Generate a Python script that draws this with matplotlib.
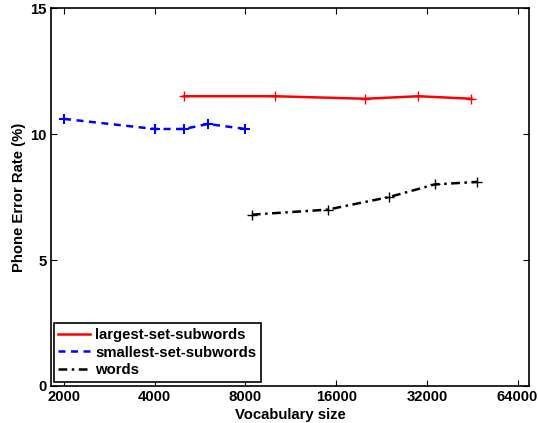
import matplotlib
matplotlib.use("Agg")
import matplotlib.pyplot as plt
from matplotlib.lines import Line2D

# --------------------------------------------------
# DATA
# --------------------------------------------------
largest_x = [5000, 10000, 20000, 30000, 45000]
largest_y = [11.5, 11.5, 11.4, 11.5, 11.4]

smallest_x = [2000, 4000, 5000, 6000, 8000]
smallest_y = [10.6, 10.2, 10.2, 10.4, 10.2]

words_x = [8400, 15000, 24000, 34000, 47000]
words_y = [6.8, 7.0, 7.5, 8.0, 8.1]

x_ticks = [2000, 4000, 8000, 16000, 32000, 64000]
y_ticks = [0, 5, 10, 15]

FS = 10.7
plt.rcParams["font.family"] = ["Liberation Sans", "DejaVu Sans"]
plt.rcParams["font.weight"] = "bold"
plt.rcParams["font.size"] = FS

fig = plt.figure(figsize=(5.38, 4.23), dpi=100)
ax = fig.add_axes([0.0942, 0.0875, 0.8896, 0.8935])

dashed = (0, (2.8, 2.2))
dashdot = (0, (3.5, 1.8, 1, 1.8))

ax.plot(largest_x, largest_y, color="red", linestyle="-", linewidth=1.8,
        marker="+", markersize=7, markeredgewidth=1)
ax.plot(smallest_x, smallest_y, color="blue", linestyle=dashed, linewidth=1.8,
        marker="+", markersize=7, markeredgewidth=1.5)
ax.plot(words_x, words_y, color="black", linestyle=dashdot, linewidth=1.8,
        marker="+", markersize=7, markeredgewidth=1)

ax.set_xscale("log", base=2)
ax.set_xlim(1805, 70000)
ax.set_ylim(0, 15)
ax.set_xticks(x_ticks)
ax.set_xticklabels([str(t) for t in x_ticks])
ax.minorticks_off()
ax.set_yticks(y_ticks)
ax.tick_params(direction="in", top=True, right=True, length=4, width=0.8,
               labelsize=FS, pad=3)
for lbl in ax.get_xticklabels() + ax.get_yticklabels():
    lbl.set_fontweight("bold")
for s in ax.spines.values():
    s.set_linewidth(1.2)

ax.set_xlabel("Vocabulary size", fontweight="bold", fontsize=FS, labelpad=3)
ax.set_ylabel("Phone Error Rate (%)", fontweight="bold", fontsize=FS, labelpad=3)

handles = [
    Line2D([], [], color="red", linestyle="-", linewidth=1.8),
    Line2D([], [], color="blue", linestyle=dashed, linewidth=1.8),
    Line2D([], [], color="black", linestyle=dashdot, linewidth=1.8),
]
leg = ax.legend(handles, ["largest-set-subwords", "smallest-set-subwords", "words"],
                loc="lower left", bbox_to_anchor=(0.007, 0.011), borderaxespad=0,
                fancybox=False, edgecolor="black", framealpha=1, handlelength=2.15,
                handletextpad=0.34, borderpad=0.3, labelspacing=0.25,
                prop={"weight": "bold", "size": FS})
leg.get_frame().set_linewidth(1.2)

fig.savefig("out.png", dpi=100)
